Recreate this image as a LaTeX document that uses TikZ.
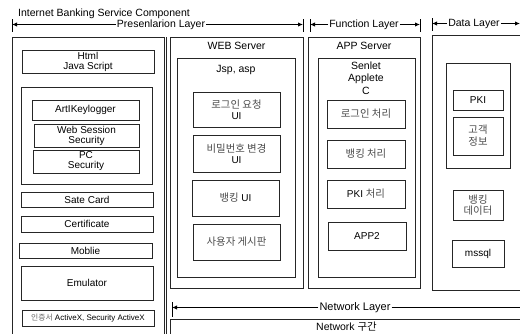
\documentclass[tikz,border=0pt]{standalone}
\usepackage{fontspec}
\setmainfont{Liberation Sans}
\newfontfamily\kr{Noto Sans CJK KR}
\usetikzlibrary{arrows.meta}
\tikzset{
  bx/.style={draw=black!85,line width=0.7pt,inner sep=0pt,align=center,font=\fontsize{10}{10}\selectfont},
  cont/.style={draw=black!85,line width=0.7pt,inner sep=0pt},
  lay/.style={line width=1.4pt,-{Latex[length=5pt,width=4.5pt]}},
  tick/.style={line width=0.8pt},
  hdr/.style={inner sep=1pt,font=\fontsize{10.5}{11}\selectfont},
  ko/.style={text=black!70}
}
\newcommand{\kt}[1]{{\kr\color{black!70}\fontsize{10.4}{10}\selectfont #1}}
\newcommand{\bxat}[6]{\node[#1,minimum width=#4-#2,minimum height=#5-#3] (#6) at ({(#2+#4)/2},{(#3+#5)/2}) {};}
\begin{document}
\begin{tikzpicture}[x=1pt,y=-1pt]
\clip (0,0) rectangle (520,333);
\fill[white] (0,0) rectangle (520,333);
% title
\node[hdr,anchor=west] (title) at (17,13.5) {Internet Banking Service Component};
% presentation layer arrow
\coordinate (pl) at (12,24.5); \coordinate (pr) at (303,24.5);
\node[hdr] (ptxt) at (161,24.5) {Presenlarion Layer};
\draw[lay] (ptxt.west) -- (pl); \draw[lay] (ptxt.east) -- (pr);
\draw[tick] (12,19) -- (12,32); \draw[tick] (303,19) -- (303,32);
% function layer
\coordinate (fl) at (310,24.5); \coordinate (fr) at (420,24.5);
\node[hdr] (ftxt) at (364,24.5) {Function Layer};
\draw[lay] (ftxt.west) -- (fl); \draw[lay] (ftxt.east) -- (fr);
\draw[tick] (310,19) -- (310,32); \draw[tick] (420,19) -- (420,32);
% data layer
\coordinate (dl) at (432,23.5); \coordinate (dr) at (520,23.5);
\node[hdr] (dtxt) at (474,23.5) {Data Layer};
\draw[lay] (dtxt.west) -- (dl); \draw[lay] (dtxt.east) -- (dr);
\draw[tick] (432,18) -- (432,31);
% network layer
\coordinate (nl) at (172,307.5); \coordinate (nr) at (530,307.5);
\node[hdr,font=\fontsize{11}{11}\selectfont] (ntxt) at (355,307.5) {Network Layer};
\draw[lay] (ntxt.west) -- (nl); \draw[lay] (ntxt.east) -- (nr);
\draw[tick] (172,302) -- (172,317);
\bxat{cont}{170}{319.5}{530}{350}{netbox}
\node[hdr,anchor=west] (nettxt) at (315,327) {Network {\kr\fontsize{10.4}{10}\selectfont 구간}};

% left column
\bxat{cont}{12}{37}{164}{345}{leftbox}
\draw[cont] (166.5,37) -- (166.5,340);
\node[bx,minimum width=132,minimum height=23] (html) at (88,61.5) {Html\\Java Script};
\bxat{cont}{21}{87}{152}{184}{secbox}
\node[bx,minimum width=107,minimum height=20] (akl) at (85.5,110) {ArtIKeylogger};
\node[bx,minimum width=105,minimum height=23] (wss) at (86.5,135.5) {Web Session\\Security};
\node[bx,minimum width=106,minimum height=23] (pcs) at (86,161.5) {PC\\Security};
\node[bx,minimum width=132,minimum height=15] (sate) at (87,199.5) {Sate Card};
\node[bx,minimum width=132,minimum height=16] (cert) at (87,224) {Certificate};
\node[bx,minimum width=133,minimum height=15] (mob) at (85.5,250.5) {Moblie};
\node[bx,minimum width=132,minimum height=34] (emu) at (87,283) {Emulator};
\node[bx,minimum width=132,minimum height=16,font=\fontsize{8}{8}\selectfont] (ax) at (88,318) {{\kr\color{black!60}\fontsize{7.8}{8}\selectfont 인증서} ActiveX, Security ActiveX};

% web server
\bxat{cont}{170}{37}{303}{288}{websrv}
\node[hdr] (webt) at (236.5,45.5) {WEB Server};
\bxat{cont}{177}{58}{295}{277}{jsp}
\node[hdr] (jspt) at (236,70) {Jsp, asp};
\node[bx,minimum width=87,minimum height=35] (login) at (236.5,109.5) {\kt{로그인 요청}\\[1pt]UI};
\node[bx,minimum width=87,minimum height=37] (pw) at (236.5,153.5) {\kt{비밀번호 변경}\\[1pt]UI};
\node[bx,minimum width=87,minimum height=36] (bui) at (235.5,198) {\kt{뱅킹} UI};
\node[bx,minimum width=87,minimum height=36] (board) at (236.5,242) {\kt{사용자 게시판}};

% app server
\bxat{cont}{308}{37}{420}{288}{appsrv}
\node[hdr] (appt) at (364,45.5) {APP Server};
\bxat{cont}{318}{58}{415}{277}{svl}
\node[bx,font=\fontsize{10.5}{12.5}\selectfont,draw=none] (svlt) at (366,78) {Senlet\\Applete\\C};
\node[bx,minimum width=78,minimum height=28] (lproc) at (366,114) {\kt{로그인 처리}};
\node[bx,minimum width=78,minimum height=28] (bproc) at (366,154) {\kt{뱅킹 처리}};
\node[bx,minimum width=78,minimum height=28] (pproc) at (366,194) {PKI \kt{처리}};
\node[bx,minimum width=78,minimum height=28] (app2) at (367,236) {APP2};

% data
\bxat{cont}{432}{35}{530}{290}{datab}
\bxat{cont}{446}{63}{510}{168}{dinner}
\node[bx,minimum width=50,minimum height=20] (pki) at (478,100) {PKI};
\node[bx,minimum width=50,minimum height=38] (cust) at (478,136) {\kt{고객}\\[2pt]\kt{정보}};
\node[bx,minimum width=50,minimum height=30] (bdata) at (478,205) {\kt{뱅킹}\\[1pt]\kt{데이터}};
\node[bx,minimum width=52,minimum height=27] (mssql) at (478,253.5) {mssql};
\end{tikzpicture}
\end{document}
